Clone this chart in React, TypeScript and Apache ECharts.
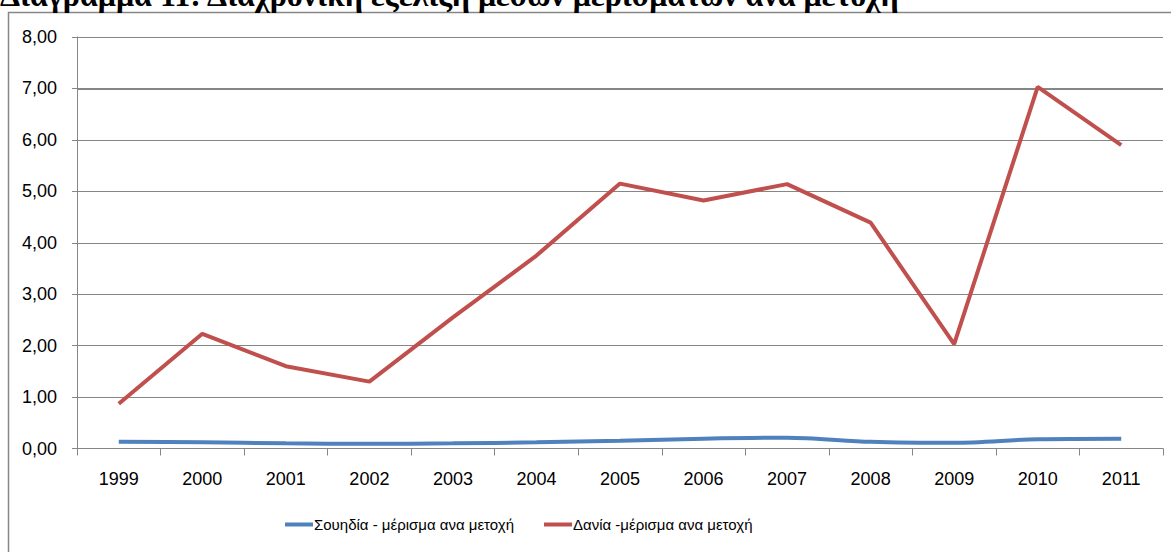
import React, { useEffect, useRef } from "react";
import * as echarts from "echarts";

const years = ["1999", "2000", "2001", "2002", "2003", "2004", "2005", "2006", "2007", "2008", "2009", "2010", "2011"];
const swedenValues = [0.13, 0.12, 0.1, 0.09, 0.1, 0.12, 0.15, 0.19, 0.21, 0.13, 0.11, 0.18, 0.19];
const denmarkValues = [0.87, 2.23, 1.6, 1.3, 2.55, 3.75, 5.15, 4.82, 5.14, 4.39, 2.03, 7.03, 5.9];
const swedenName = "Σουηδία - μέρισμα ανα μετοχή";
const denmarkName = "Δανία -μέρισμα ανα μετοχή";
const titleText = "Διάγραμμα 11: Διαχρονική εξέλιξη μέσων μερισμάτων ανά μετοχή";

const GREY = "#868686";
const FONT = '"Liberation Sans", Arial, sans-serif';

export default function App() {
  const ref = useRef<HTMLDivElement>(null);
  useEffect(() => {
    if (!ref.current) return;
    const chart = echarts.init(ref.current, undefined, { renderer: "svg" });
    chart.setOption({
      animation: false,
      backgroundColor: "#ffffff",
      graphic: [
        {
          type: "rect",
          shape: { x: 8.5, y: 12.5, width: 1200, height: 600 },
          style: { fill: "none", stroke: GREY, lineWidth: 1.5 },
          z: -1,
        },
        {
          type: "text",
          x: 0,
          y: 11,
          style: {
            text: titleText,
            font: 'bold 32px "Liberation Serif", serif',
            fill: "#000",
            verticalAlign: "bottom",
          },
        },
      ],
      grid: { left: 77, right: 8, top: 37, bottom: 103.5, containLabel: false },
      legend: {
        bottom: 15,
        left: 280,
        itemWidth: 28,
        itemHeight: 4,
        itemGap: 30,
        icon: "rect",
        textStyle: { fontFamily: FONT, fontSize: 15, color: "#000", padding: [0, 0, 0, -4] },
        data: [swedenName, denmarkName],
      },
      xAxis: {
        type: "category",
        data: years,
        boundaryGap: true,
        axisLine: { lineStyle: { color: GREY, width: 1 } },
        axisTick: { show: true, length: 7, lineStyle: { color: GREY } },
        axisLabel: { fontFamily: FONT, fontSize: 18, color: "#000", margin: 21 },
        splitLine: { show: false },
      },
      yAxis: {
        type: "value",
        min: 0,
        max: 8,
        interval: 1,
        axisLine: { show: true, lineStyle: { color: GREY, width: 1 } },
        axisTick: { show: true, length: 5, lineStyle: { color: GREY } },
        axisLabel: {
          fontFamily: FONT,
          fontSize: 18,
          color: "#000",
          margin: 20,
          formatter: (v: number) => v.toFixed(2).replace(".", ","),
        },
        splitLine: { show: true, lineStyle: { color: GREY, width: 1 } },
      },
      series: [
        {
          name: swedenName,
          type: "line",
          data: swedenValues,
          smooth: 0.3,
          symbol: "none",
          lineStyle: { color: "#4F81BD", width: 4 },
          itemStyle: { color: "#4F81BD" },
        },
        {
          name: denmarkName,
          type: "line",
          data: denmarkValues,
          symbol: "none",
          lineStyle: { color: "#C0504D", width: 4 },
          itemStyle: { color: "#C0504D" },
          markLine: {
            silent: true,
            symbol: "none",
            label: { show: false },
            lineStyle: { color: GREY, width: 2, type: "solid" },
            data: [{ yAxis: 7 }],
            z: 1,
          },
        },
      ],
    });
    return () => chart.dispose();
  }, []);
  return <div ref={ref} style={{ position: "fixed", left: 0, top: 0, width: 1171, height: 552 }} />;
}
